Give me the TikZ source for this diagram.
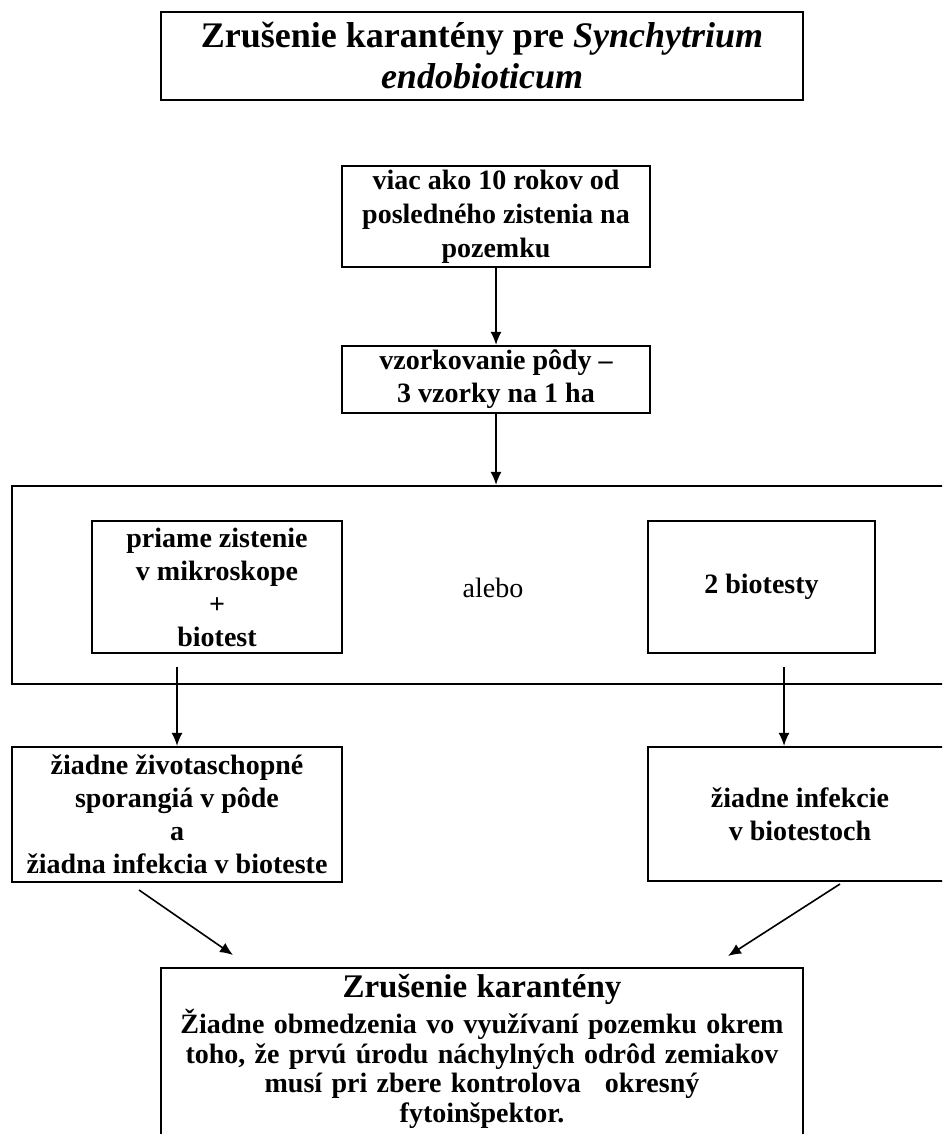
\documentclass[tikz,border=0pt]{standalone}
\usepackage{fontspec}
\setmainfont{Liberation Serif}
\usetikzlibrary{arrows.meta}

\begin{document}
\begin{tikzpicture}[x=0.5pt, y=-0.5pt,
	box/.style={draw, rectangle, line width=1.1pt, align=center, inner sep=0pt,
		font=\fontsize{14}{16.5}\selectfont\bfseries},
	arr/.style={-{Latex[length=6.5pt,width=5.5pt]}, line width=0.8pt}]
	\useasboundingbox (0,0) rectangle (942,1134);
	\clip (0,0) rectangle (942,1134);

	\node[box, minimum width=321pt, minimum height=44pt,
		font=\fontsize{18}{20.5}\selectfont\bfseries] (title) at (482,56)
		{Zrušenie karantény pre \textit{Synchytrium}\\ \textit{endobioticum}};

	\node[box, minimum width=154pt, minimum height=50.5pt,
		font=\fontsize{14}{17}\selectfont\bfseries] (viac) at (496,216.5)
		{viac ako 10 rokov od\\ posledného zistenia na\\ pozemku};
	\node[box, minimum width=154pt, minimum height=33.5pt] (vzork) at (496,379.5)
		{vzorkovanie pôdy –\\ 3 vzorky na 1 ha};

	%frame round the two ways
	\node[box, minimum width=474pt, minimum height=99pt] (frame) at (486,585) {};
	\node[box, minimum width=125pt, minimum height=66pt] (priame) at (217,587)
		{priame zistenie\\ v mikroskope\\ +\\ biotest};
	\node[font=\fontsize{14}{16}\selectfont] (alebo) at (493,588) {alebo};
	\node[box, minimum width=113.5pt, minimum height=66pt] (bio2) at (761.5,587) {2 biotesty};

	\node[box, minimum width=165pt, minimum height=67.5pt] (ziadneL) at (177,814.5)
		{žiadne životaschopné\\ sporangiá v pôde\\ a\\ žiadna infekcia v bioteste};
	\node[box, minimum width=152pt, minimum height=67pt] (ziadneR) at (800,814)
		{žiadne infekcie\\ v biotestoch};

	\node[box, anchor=north, text width=321pt, inner ysep=3pt,
		font=\fontsize{14}{14.75}\selectfont\bfseries] (zrus) at (482,967)
		{{\fontsize{16.5}{19}\selectfont Zrušenie karantény}\\[1.5pt]
		Žiadne obmedzenia vo využívaní pozemku okrem\\
		toho, že prvú úrodu náchylných odrôd zemiakov\\
		musí pri zbere kontrolova\hspace{12pt}okresný\\
		fytoinšpektor.\\[25pt]\mbox{}};

	\coordinate (pL) at (177,667);
	\coordinate (pR) at (784,667);
	\coordinate (dLa) at (139,890);
	\coordinate (dLb) at (233,955);
	\coordinate (dRa) at (840,884);
	\coordinate (dRb) at (728,956);

	\draw[arr] (viac) -- (vzork);
	\draw[arr] (vzork.south) -- (vzork.south |- frame.north);
	\draw[arr] (pL) -- (pL |- ziadneL.north);
	\draw[arr] (pR) -- (pR |- ziadneR.north);
	\draw[arr] (dLa) -- (dLb);
	\draw[arr] (dRa) -- (dRb);
\end{tikzpicture}
\end{document}
